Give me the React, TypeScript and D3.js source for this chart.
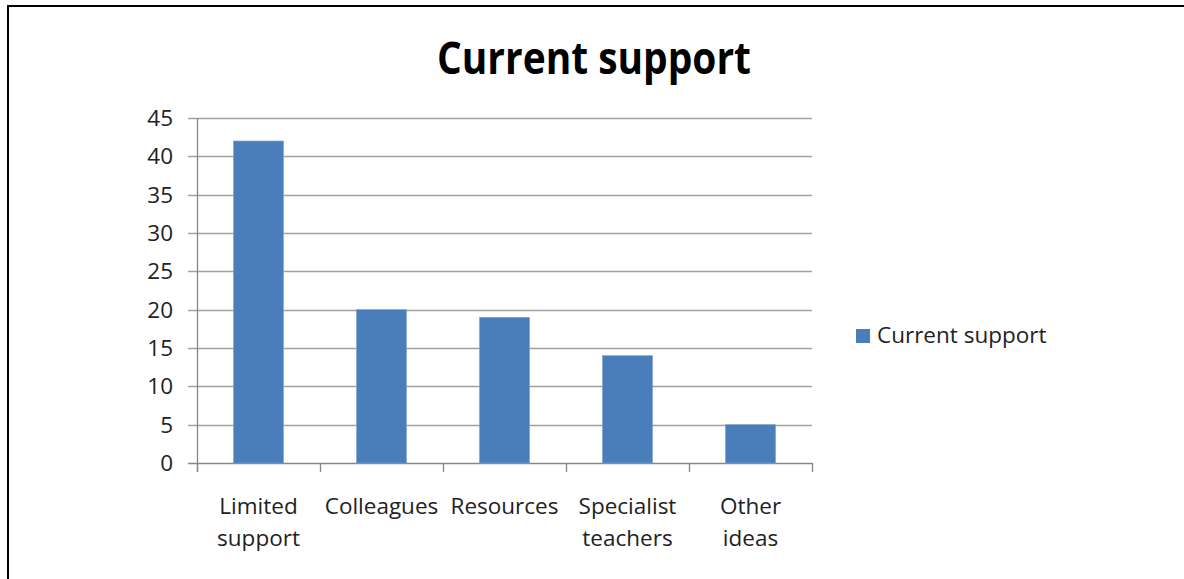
import React from "react";
import * as d3 from "d3";

const categories: string[][] = [
  ["Limited", "support"],
  ["Colleagues"],
  ["Resources"],
  ["Specialist", "teachers"],
  ["Other", "ideas"],
];
const values: number[] = [42, 20, 19, 14, 5];
const yTicks: number[] = [0, 5, 10, 15, 20, 25, 30, 35, 40, 45];
const seriesName = "Current support";
const chartTitle = "Current support";

const W = 1184;
const H = 579;
const plot = { left: 197, right: 812, top: 118, bottom: 463 };
const barColor = "#4A7EBB";
const gridColor = "#A0A0A0";
const axisColor = "#868686";
const font = "'Open Sans', sans-serif";
const labelSize = 22.5;

export default function App() {
  const keys = categories.map((c) => c.join(" "));
  const x = d3
    .scaleBand<string>()
    .domain(keys)
    .range([plot.left, plot.right])
    .paddingInner(0.593)
    .paddingOuter(0.2965);
  const y = d3.scaleLinear().domain([0, 45]).range([plot.bottom, plot.top]);
  const step = x.step();
  const boundaries = d3.range(keys.length + 1).map((i) => plot.left + i * step);

  return (
    <svg
      width={W}
      height={H}
      style={{ position: "absolute", left: 0, top: 0, background: "#fff" }}
    >
      <rect x={0} y={0} width={W} height={H} fill="#fff" />
      <rect x={8} y={6} width={W + 50} height={H + 50} fill="none" stroke="#000" strokeWidth={2} />

      <text
        x={594}
        y={74}
        textAnchor="middle"
        fontFamily={font}
        fontWeight="bold"
        fontSize={44}
        textLength={314}
        lengthAdjust="spacingAndGlyphs"
        fill="#000"
      >
        {chartTitle}
      </text>

      {/* gridlines and y ticks */}
      {yTicks.map((t) => (
        <g key={t}>
          <line
            x1={plot.left - 9}
            x2={plot.right}
            y1={Math.round(y(t)) + 0.5}
            y2={Math.round(y(t)) + 0.5}
            stroke={t === 0 ? axisColor : gridColor}
            strokeWidth={1.3}
          />
          <text
            x={173}
            y={y(t)}
            dy="0.36em"
            textAnchor="end"
            fontFamily={font}
            fontSize={labelSize}
            fill="#222"
          >
            {t}
          </text>
        </g>
      ))}

      {/* bars */}
      {keys.map((k, i) => (
        <rect
          key={k}
          x={x(k)}
          y={y(values[i])}
          width={x.bandwidth()}
          height={y(0) - y(values[i])}
          fill={barColor}
          stroke="#7FA3D0"
          strokeWidth={0.6}
        />
      ))}

      {/* axes */}
      <line x1={plot.left + 0.5} x2={plot.left + 0.5} y1={plot.top} y2={plot.bottom + 9} stroke={axisColor} strokeWidth={1.3} />
      {boundaries.map((bx, i) => (
        <line key={i} x1={bx + 0.5} x2={bx + 0.5} y1={plot.bottom} y2={plot.bottom + 9} stroke={axisColor} strokeWidth={1.3} />
      ))}

      {/* category labels */}
      {categories.map((lines, i) => {
        const cx = (x(keys[i]) ?? 0) + x.bandwidth() / 2;
        return (
          <text key={keys[i]} x={cx} y={514} textAnchor="middle" fontFamily={font} fontSize={labelSize} fill="#222">
            {lines.map((ln, j) => (
              <tspan key={j} x={cx} y={514 + j * 32}>
                {ln}
              </tspan>
            ))}
          </text>
        );
      })}

      {/* legend */}
      <rect x={856} y={329} width={14} height={14} fill={barColor} />
      <text x={877} y={343} fontFamily={font} fontSize={labelSize} fill="#222">
        {seriesName}
      </text>
    </svg>
  );
}
